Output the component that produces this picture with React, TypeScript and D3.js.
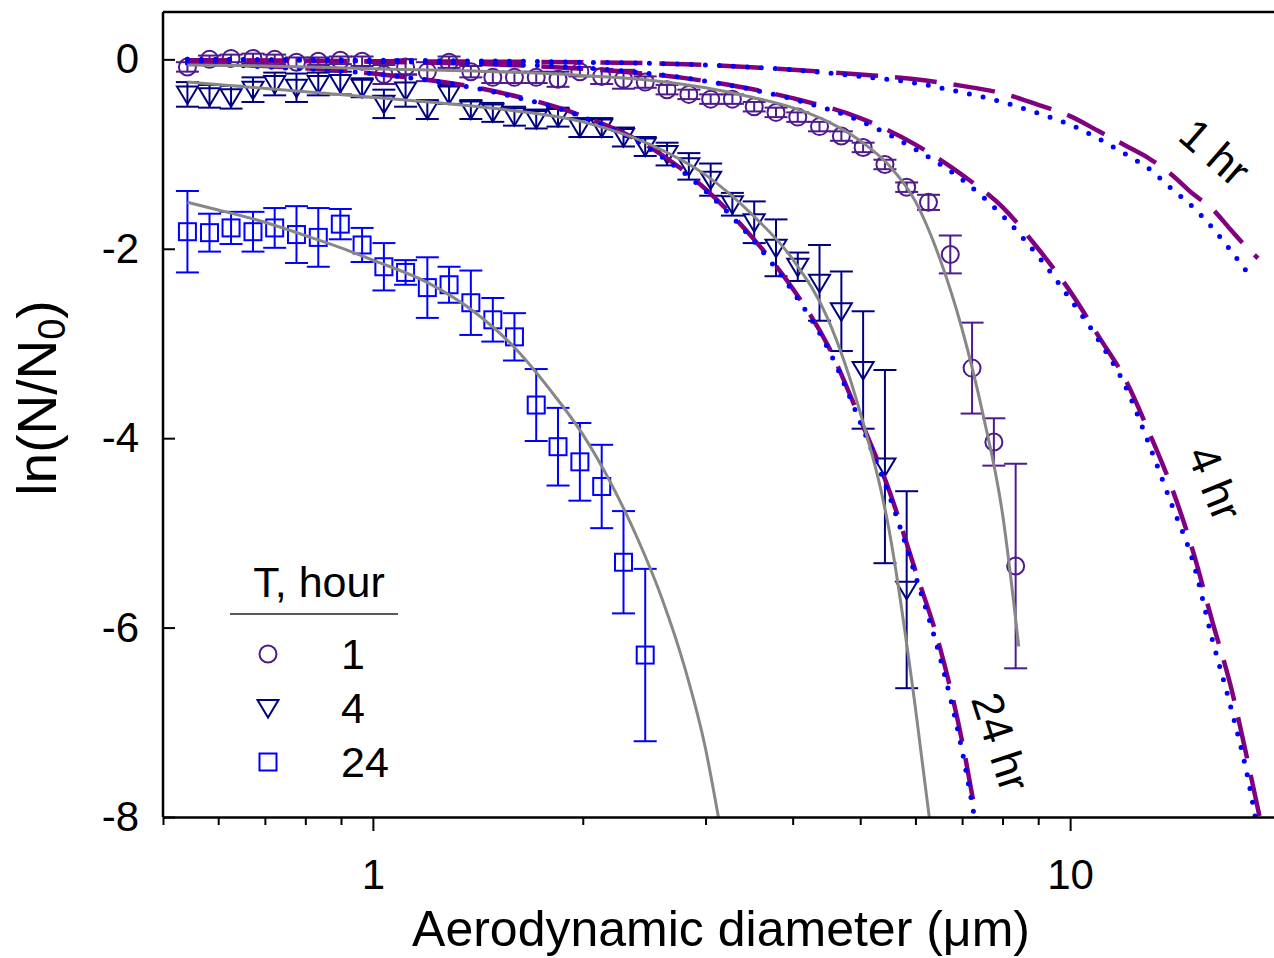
import React, { useEffect, useRef } from "react";
import * as d3 from "d3";

const WIDTH = 1274;
const HEIGHT = 958;
const PLOT = { left: 163, right: 1280, top: 12, bottom: 817 };
const FONT = "'Liberation Sans', Arial, Helvetica, sans-serif";

// APS channel midpoints (um)
const channelD = [
  0.542, 0.583, 0.626, 0.673, 0.723, 0.777, 0.835, 0.898, 0.965, 1.037, 1.114, 1.197, 1.286,
  1.382, 1.486, 1.596, 1.715, 1.843, 1.981, 2.129, 2.288, 2.458, 2.642, 2.839, 3.051, 3.278,
  3.523, 3.786, 4.068, 4.371, 4.698, 5.048, 5.425, 5.829, 6.264, 6.732, 7.234, 7.774, 8.354,
];

// T = 1 hour (circles)
const circleVals = [
  -0.08, 0.0, 0.01, 0.01, 0.0, -0.03, -0.02, -0.01, -0.02, -0.16,
  -0.08, -0.13, -0.03, -0.13, -0.19, -0.19, -0.19, -0.21, -0.13, -0.18,
  -0.21, -0.24, -0.32, -0.37, -0.42, -0.42, -0.5, -0.56, -0.61, -0.71,
  -0.81, -0.93, -1.11, -1.35, -1.51, -2.06, -3.26, -4.04, -5.35,
];
const circleErr = [
  0.05, 0.04, 0.04, 0.05, 0.05, 0.05, 0.04, 0.04, 0.05, 0.1,
  0.08, 0.1, 0.06, 0.06, 0.06, 0.06, 0.06, 0.08, 0.05, 0.08,
  0.1, 0.06, 0.05, 0.05, 0.05, 0.05, 0.05, 0.05, 0.05, 0.05,
  0.05, 0.05, 0.05, 0.05, 0.08, 0.2, 0.48, 0.25, 1.08,
];

// T = 4 hours (triangles)
const triangleVals = [
  -0.37, -0.39, -0.4, -0.32, -0.26, -0.3, -0.26, -0.25, -0.3, -0.47,
  -0.33, -0.53, -0.37, -0.53, -0.56, -0.6, -0.63, -0.61, -0.72, -0.72,
  -0.82, -0.92, -1.0, -1.13, -1.27, -1.53, -1.72, -1.99, -2.19, -2.36,
  -2.66, -3.28, -4.3, -5.6,
];
const triangleErr = [
  0.13, 0.12, 0.12, 0.13, 0.12, 0.15, 0.12, 0.12, 0.1, 0.15,
  0.17, 0.1, 0.1, 0.1, 0.1, 0.1, 0.1, 0.1, 0.1, 0.1,
  0.1, 0.1, 0.12, 0.14, 0.17, 0.12, 0.22, 0.3, 0.15, 0.4,
  0.42, 0.62, 1.02, 1.04,
];

// T = 24 hours (squares)
const squareVals = [
  -1.82, -1.83, -1.78, -1.82, -1.78, -1.85, -1.88, -1.74, -1.96, -2.19, -2.25,
  -2.41, -2.38, -2.57, -2.75, -2.93, -3.65, -4.09, -4.25, -4.51, -5.31, -6.29,
];
const squareErr = [
  0.43, 0.2, 0.17, 0.21, 0.21, 0.3, 0.31, 0.16, 0.18, 0.25, 0.13,
  0.32, 0.19, 0.34, 0.23, 0.25, 0.38, 0.41, 0.41, 0.44, 0.54, 0.91,
];

// model curves (dashed purple / dotted blue)
const model1D = [0.542, 1, 2, 3, 4, 5, 6, 7, 8, 9, 10, 11, 12, 13, 14, 15, 16, 17, 18, 18.6];
const dash1V = [-0.01, -0.02, -0.03, -0.06, -0.11, -0.16, -0.21, -0.28, -0.36, -0.48, -0.6, -0.76, -0.91, -1.05, -1.22, -1.42, -1.58, -1.8, -2.0, -2.1];
const dot1D = [0.542, 1, 2, 3, 4, 5, 6, 7, 8, 9, 10, 11, 12, 13, 14, 15, 16, 17, 17.95];
const dot1V = [0, -0.01, -0.03, -0.06, -0.11, -0.18, -0.25, -0.35, -0.45, -0.57, -0.69, -0.84, -1.0, -1.16, -1.37, -1.56, -1.78, -2.02, -2.25];

const model4D = [0.542, 1, 2, 3, 4, 5, 6, 7, 8, 9, 10, 11, 12, 13, 14, 15, 16, 17, 18, 18.7];
const dash4V = [-0.01, -0.025, -0.1, -0.23, -0.41, -0.62, -0.9, -1.22, -1.56, -2.0, -2.45, -2.93, -3.38, -3.95, -4.53, -5.19, -5.94, -6.62, -7.43, -8.0];
const dot4V = [0, -0.02, -0.09, -0.23, -0.42, -0.65, -0.95, -1.27, -1.65, -2.08, -2.53, -2.97, -3.45, -4.08, -4.71, -5.3, -6.13, -6.84, -7.6, -8.27];

const model24D = [0.542, 0.7, 1, 1.5, 2, 2.5, 3, 3.5, 4, 4.5, 5, 5.5, 6, 6.5, 7, 7.35];
const dash24V = [-0.04, -0.07, -0.15, -0.34, -0.6, -0.93, -1.37, -1.88, -2.42, -3.03, -3.8, -4.55, -5.4, -6.2, -7.2, -8.05];
const dot24V = [-0.04, -0.08, -0.15, -0.35, -0.61, -0.95, -1.39, -1.9, -2.45, -3.06, -3.83, -4.6, -5.45, -6.3, -7.3, -8.15];

// gray fits
const fit1D = [0.542, 0.7, 1, 1.5, 2, 2.5, 3, 3.5, 4, 4.5, 5, 5.5, 6, 6.5, 7, 7.5, 8, 8.44];
const fit1V = [-0.06, -0.07, -0.1, -0.13, -0.17, -0.22, -0.3, -0.4, -0.51, -0.66, -0.86, -1.12, -1.5, -2.1, -2.85, -3.75, -4.8, -6.2];
const fit4D = [0.542, 1, 1.5, 2, 2.5, 3, 3.5, 4, 4.5, 5, 5.5, 6, 6.28];
const fit4V = [-0.24, -0.4, -0.52, -0.66, -0.9, -1.22, -1.64, -2.11, -2.75, -3.73, -4.97, -6.85, -8.0];
const fit24D = [0.542, 0.6, 0.7, 0.8, 0.9, 1, 1.2, 1.4, 1.6, 1.8, 2, 2.2, 2.4, 2.6, 2.8, 3, 3.13];
const fit24V = [-1.51, -1.59, -1.72, -1.86, -1.99, -2.12, -2.36, -2.67, -3.05, -3.5, -3.96, -4.49, -5.07, -5.7, -6.42, -7.28, -8.0];

const xMajor = [1, 10];
const xMinor = [0.5, 0.6, 0.7, 0.8, 0.9, 2, 3, 4, 5, 6, 7, 8, 9, 20];
const yTicks = [0, -2, -4, -6, -8];
const legendLabels = ["1", "4", "24"];
const curveLabels = ["1 hr", "4 hr", "24 hr"];

const C_CIRCLE = "#4e1a8c";
const C_TRI = "#000080";
const C_SQ = "#0000ff";
const C_DASH = "#800080";
const C_DOT = "#0000ff";
const C_FIT = "#878787";

function App() {
  const ref = useRef<SVGSVGElement>(null);

  useEffect(() => {
    const x = d3.scaleLog().domain([0.5, 20]).range([PLOT.left, PLOT.right]);
    const y = d3.scaleLinear().domain([-8, 0.5]).range([PLOT.bottom, PLOT.top]);

    const svg = d3.select(ref.current);
    svg.selectAll("*").remove();

    svg
      .append("defs")
      .append("clipPath")
      .attr("id", "plotclip")
      .append("rect")
      .attr("x", PLOT.left)
      .attr("y", PLOT.top)
      .attr("width", PLOT.right - PLOT.left)
      .attr("height", PLOT.bottom - PLOT.top);

    const line = d3
      .line<[number, number]>()
      .x((d) => x(d[0]))
      .y((d) => y(d[1]))
      .curve(d3.curveMonotoneX);
    const pairs = (ds: number[], vs: number[]) => ds.map((d, i) => [d, vs[i]] as [number, number]);

    // symbols
    const drawMarker = (g: any, shape: string, color: string) => {
      if (shape === "circle") {
        g.append("circle").attr("r", 8.5).attr("fill", "none").attr("stroke", color).attr("stroke-width", 2);
      } else if (shape === "triangle") {
        g.append("path").attr("d", "M-10.5,-8L10.5,-8L0,9.5Z").attr("fill", "none").attr("stroke", color).attr("stroke-width", 2);
      } else {
        g.append("rect").attr("x", -8.5).attr("y", -8.5).attr("width", 17).attr("height", 17)
          .attr("fill", "none").attr("stroke", color).attr("stroke-width", 2);
      }
    };

    const series = [
      { vals: squareVals, err: squareErr, shape: "square", color: C_SQ },
      { vals: triangleVals, err: triangleErr, shape: "triangle", color: C_TRI },
      { vals: circleVals, err: circleErr, shape: "circle", color: C_CIRCLE },
    ];

    const dataG = svg.append("g").attr("clip-path", "url(#plotclip)");
    series.forEach((s) => {
      const g = dataG.append("g");
      s.vals.forEach((v, i) => {
        const cx = x(channelD[i]);
        const top = y(v + s.err[i]);
        const bot = y(v - s.err[i]);
        const eb = g.append("g").attr("stroke", s.color).attr("stroke-width", 2);
        eb.append("line").attr("x1", cx).attr("x2", cx).attr("y1", top).attr("y2", bot);
        eb.append("line").attr("x1", cx - 11.5).attr("x2", cx + 11.5).attr("y1", top).attr("y2", top);
        eb.append("line").attr("x1", cx - 11.5).attr("x2", cx + 11.5).attr("y1", bot).attr("y2", bot);
        drawMarker(g.append("g").attr("transform", `translate(${cx},${y(v)})`), s.shape, s.color);
      });
    });

    // model curves
    const curveG = svg.append("g").attr("clip-path", "url(#plotclip)").attr("fill", "none");
    [
      [model1D, dash1V],
      [model4D, dash4V],
      [model24D, dash24V],
    ].forEach(([ds, vs]) => {
      curveG
        .append("path")
        .attr("d", line(pairs(ds, vs)))
        .attr("stroke", C_DASH)
        .attr("stroke-width", 4.5)
        .attr("stroke-dasharray", "42 17");
    });
    [
      [dot1D, dot1V],
      [model4D, dot4V],
      [model24D, dot24V],
    ].forEach(([ds, vs]) => {
      curveG
        .append("path")
        .attr("d", line(pairs(ds, vs)))
        .attr("stroke", C_DOT)
        .attr("stroke-width", 5)
        .attr("stroke-linecap", "round")
        .attr("stroke-dasharray", "0 14");
    });
    [
      [fit1D, fit1V],
      [fit4D, fit4V],
      [fit24D, fit24V],
    ].forEach(([ds, vs]) => {
      curveG
        .append("path")
        .attr("d", line(pairs(ds, vs)))
        .attr("stroke", C_FIT)
        .attr("stroke-width", 3);
    });

    // frame
    svg
      .append("line")
      .attr("x1", PLOT.left)
      .attr("x2", PLOT.right)
      .attr("y1", PLOT.top)
      .attr("y2", PLOT.top)
      .attr("stroke", "#000")
      .attr("stroke-width", 2.5);

    // x axis
    const xAxisG = svg.append("g").attr("transform", `translate(0,${PLOT.bottom})`);
    xAxisG
      .append("g")
      .call(d3.axisBottom(x).tickValues(xMinor).tickSize(8).tickSizeOuter(0).tickFormat(() => ""))
      .call((g) => g.select(".domain").attr("stroke-width", 2.5));
    xAxisG
      .append("g")
      .call(d3.axisBottom(x).tickValues(xMajor).tickSize(14).tickPadding(28).tickSizeOuter(0).tickFormat((d) => String(d)))
      .call((g) => g.select(".domain").remove())
      .call((g) => g.selectAll("text").attr("font-family", FONT).attr("font-size", 42).attr("fill", "#000"));
    xAxisG.selectAll(".tick line").attr("stroke-width", 2);

    // y axis
    svg
      .append("g")
      .attr("transform", `translate(${PLOT.left},0)`)
      .call(d3.axisLeft(y).tickValues(yTicks).tickSize(-12).tickPadding(24).tickSizeOuter(0).tickFormat((d) => String(d)))
      .call((g) => g.select(".domain").attr("stroke-width", 2.5).attr("d", `M0,${PLOT.top}V${PLOT.bottom}`))
      .call((g) => g.selectAll(".tick line").attr("stroke-width", 2))
      .call((g) => g.selectAll("text").attr("font-family", FONT).attr("font-size", 42).attr("fill", "#000"));

    // axis titles
    svg
      .append("text")
      .attr("x", 721)
      .attr("y", 946)
      .attr("text-anchor", "middle")
      .attr("font-family", FONT)
      .attr("font-size", 50)
      .text("Aerodynamic diameter (\u03bcm)");

    const yt = svg
      .append("text")
      .attr("transform", "translate(56,398) rotate(-90)")
      .attr("text-anchor", "middle")
      .attr("font-family", FONT)
      .attr("font-size", 55);
    yt.append("tspan").text("ln(N/N");
    yt.append("tspan").attr("font-size", 38).attr("dy", 9).text("0");
    yt.append("tspan").attr("dy", -9).text(")");

    // legend
    const lg = svg.append("g").attr("font-family", FONT);
    lg.append("text").attr("x", 319).attr("y", 597).attr("text-anchor", "middle").attr("font-size", 43).text("T, hour");
    lg.append("line").attr("x1", 230).attr("x2", 398).attr("y1", 614).attr("y2", 614).attr("stroke", "#222").attr("stroke-width", 1.5);
    const legendShapes = [
      ["circle", C_CIRCLE],
      ["triangle", C_TRI],
      ["square", C_SQ],
    ];
    legendLabels.forEach((lab, i) => {
      const cy = 654 + i * 54;
      drawMarker(lg.append("g").attr("transform", `translate(268,${cy})`), legendShapes[i][0], legendShapes[i][1]);
      lg.append("text").attr("x", 341).attr("y", cy + 15).attr("font-size", 43).text(lab);
    });

    // curve labels
    const labelPos = [
      { x: 1215, y: 152, r: 41 },
      { x: 1215, y: 483, r: 68 },
      { x: 1001, y: 742, r: 72 },
    ];
    curveLabels.forEach((t, i) => {
      const p = labelPos[i];
      svg
        .append("text")
        .attr("transform", `translate(${p.x},${p.y}) rotate(${p.r})`)
        .attr("text-anchor", "middle")
        .attr("dy", "0.35em")
        .attr("font-family", FONT)
        .attr("font-size", 44)
        .text(t);
    });
  }, []);

  return (
    <svg
      ref={ref}
      width={WIDTH}
      height={HEIGHT}
      style={{ position: "absolute", left: 0, top: 0, background: "#fff" }}
    />
  );
}

export default App;
